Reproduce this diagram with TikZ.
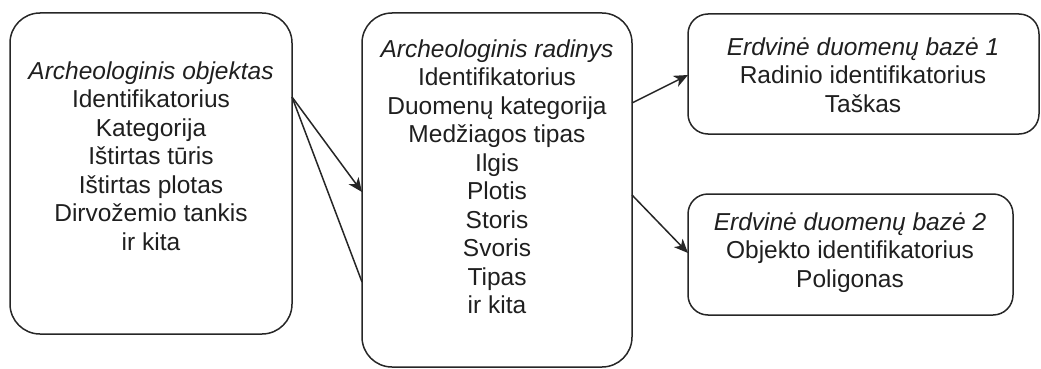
\documentclass[tikz,border=0pt]{standalone}
\usepackage{fontspec}
\setmainfont{Liberation Sans}
\usetikzlibrary{arrows.meta}
\begin{document}
\begin{tikzpicture}[x=1pt,y=-1pt,
  box/.style={draw=black!85, line width=1.5pt, inner sep=0pt, outer sep=0pt},
  lbl/.style={align=center, text=black!88, font=\fontsize{24.5}{28.5}\selectfont},
  conn/.style={draw=black!85, line width=1.5pt},
  arr/.style={conn, -{Stealth[length=14pt,width=12pt,inset=4pt]}}]
\useasboundingbox (0,0) rectangle (1041,369);
\node[box, rounded corners=30pt, minimum width=282pt, minimum height=321pt] (boxA) at (151,173.5) {};
\node[box, rounded corners=30pt, minimum width=270pt, minimum height=354pt] (boxB) at (497,190) {};
\node[box, rounded corners=20pt, minimum width=351pt, minimum height=120pt] (boxC) at (863.5,74) {};
\node[box, rounded corners=20pt, minimum width=325pt, minimum height=121pt] (boxD) at (850.5,254.5) {};
\node[lbl] (textA) at (151,156) {\textit{Archeologinis objektas}\\Identifikatorius\\Kategorija\\Ištirtas tūris\\Ištirtas plotas\\Dirvožemio tankis\\ir kita};
\node[lbl] (textB) at (497,176.5) {\textit{Archeologinis radinys}\\Identifikatorius\\Duomenų kategorija\\Medžiagos tipas\\Ilgis\\Plotis\\Storis\\Svoris\\Tipas\\ir kita};
\node[lbl] (textC) at (863,75) {\textit{Erdvinė duomenų bazė 1}\\Radinio identifikatorius\\Taškas};
\node[lbl] (textD) at (850,252.5) {\textit{Erdvinė duomenų bazė 2}\\Objekto identifikatorius\\Poligonas};
\coordinate (aout) at ([yshift=76.5pt]boxA.east);
\draw[arr] (aout) -- ([yshift=-2pt]boxB.west);
\draw[conn] (aout) -- ([yshift=-92pt]boxB.west);
\draw[arr] ([yshift=87pt]boxB.east) -- ([yshift=-1pt]boxC.west);
\draw[arr] ([yshift=-5pt]boxB.east) -- ([yshift=1.5pt]boxD.west);
\end{tikzpicture}
\end{document}
